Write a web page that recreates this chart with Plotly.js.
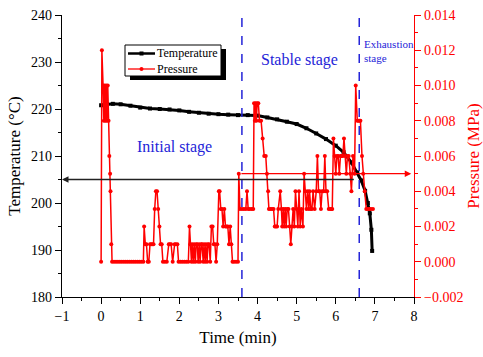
<!DOCTYPE html>
<html><head><meta charset="utf-8">
<script src="https://cdn.plot.ly/plotly-3.0.1.min.js"></script>
<style>html,body{margin:0;padding:0;background:#fff}#c{width:483px;height:357px}</style>
</head><body><div id="c"></div>
<script>
// Temperature series (min, °C)
const tempTime = [0.00,0.15,0.30,0.50,0.75,1.00,1.25,1.50,1.75,2.00,2.25,2.50,2.75,3.00,3.25,3.50,3.75,4.00,4.25,4.50,4.75,5.00,5.25,5.50,5.75,6.00,6.20,6.40,6.55,6.65,6.75,6.82,6.87,6.91,6.93];
const tempValues = [220.8,221.0,221.1,221.0,220.7,220.3,220.1,220.0,219.9,219.7,219.4,219.2,219.0,218.9,218.8,218.7,218.7,218.6,218.2,217.8,217.3,216.8,215.9,214.8,213.6,212.2,210.8,208.6,206.5,204.8,202.6,200.0,197.8,194.3,189.8];

// Pressure series (min, MPa)
const presTime = [0.00,0.02,0.05,0.07,0.09,0.11,0.13,0.15,0.17,0.19,0.21,0.23,0.24,0.26,0.28,
0.33,0.38,0.43,0.48,0.53,0.58,0.63,0.68,0.73,0.78,0.83,0.88,0.93,0.98,1.03,1.08,
1.10,1.13,1.16,1.19,1.22,1.25,1.28,1.31,1.34,1.37,1.40,1.43,1.46,1.49,1.52,1.55,1.58,1.63,1.68,
1.73,1.76,1.79,1.83,1.88,1.91,1.95,1.98,2.03,2.08,2.13,2.18,2.23,2.26,2.28,2.31,2.33,2.36,2.38,
2.41,2.43,2.46,2.48,2.51,2.53,2.56,2.58,2.61,2.63,2.66,2.68,2.71,2.73,2.76,2.79,2.82,2.85,2.88,
2.91,2.94,2.97,3.01,3.03,3.06,3.09,3.12,3.15,3.18,3.21,3.24,3.27,3.30,3.33,3.36,3.40,3.45,3.50,
3.52,3.55,3.60,3.65,3.70,3.73,3.76,3.80,3.85,3.89,3.91,3.93,3.95,3.97,3.99,4.02,4.05,4.09,4.13,
4.17,4.21,4.24,4.27,4.29,4.33,4.37,4.41,4.44,4.47,4.50,4.53,4.58,4.61,4.63,4.66,4.68,4.71,4.73,
4.76,4.79,4.82,4.85,4.88,4.91,4.94,4.97,5.00,5.03,5.06,5.09,5.12,5.16,5.19,5.22,5.25,5.28,5.31,
5.33,5.36,5.39,5.42,5.46,5.50,5.53,5.56,5.59,5.62,5.65,5.69,5.72,5.75,5.78,5.82,5.86,5.89,5.91,
5.94,5.97,6.00,6.03,6.06,6.09,6.12,6.15,6.18,6.21,6.24,6.27,6.30,6.33,6.37,6.40,6.44,6.48,6.51,
6.55,6.58,6.61,6.63,6.67,6.70,6.74,6.78,6.82,6.86,6.90,6.95];
const presValues = [0,0.012,0.010,0.008,0.010,0.008,0.010,0.008,0.010,0.008,0.006,0.005,0.004,0.001,0,
0,0,0,0,0,0,0,0,0,0,0,0,0,0,0,0,
0.002,0.001,0.001,0,0,0.001,0.001,0.001,0.001,0.003,0.004,0.004,0.003,0.002,0.001,0.001,0,0,0,
0.001,0.001,0.001,0,0.001,0.001,0.001,0,0,0,0,0,0,0.002,0.001,0,0.001,0,0.001,
0,0.001,0.001,0,0.001,0,0.001,0.001,0,0.001,0,0.001,0,0.001,0.001,0,0.002,0.002,0.001,
0.001,0,0.001,0.004,0.004,0.003,0.003,0.002,0.003,0.002,0.002,0.002,0.001,0.002,0.001,0,0,0,0,
0.005,0.003,0.003,0.003,0.003,0.004,0.003,0.003,0.003,0.003,0.009,0.008,0.009,0.008,0.009,0.009,0.008,0.008,0.007,
0.006,0.006,0.005,0.004,0.003,0.003,0.003,0.003,0.002,0.002,0.002,0.003,0.004,0.003,0.002,0.003,0.002,0.003,0.002,
0.003,0.003,0.002,0.001,0.002,0.003,0.002,0.004,0.003,0.002,0.004,0.002,0.003,0.002,0.005,0.004,0.003,0.004,0.003,0.004,
0.003,0.003,0.004,0.003,0.004,0.006,0.004,0.004,0.003,0.004,0.004,0.006,0.004,0.004,0.003,0.003,0.003,0.003,0.007,
0.006,0.005,0.006,0.006,0.005,0.006,0.006,0.006,0.007,0.006,0.005,0.006,0.006,0.005,0.004,0.006,0.005,0.010,0.008,
0.008,0.008,0.008,0.006,0.005,0.004,0.003,0.003,0.003,0.003,0.003,0.003];

const seriesNames = ["Temperature", "Pressure"];
const stageBounds = [3.6, 6.6];
const stageLabels = ["Initial stage", "Stable stage", "Exhaustion<br>stage"];
const tempArrow = {from: 6.5, to: -1, value: 205};
const presArrow = {from: 3.55, to: 7.93, value: 0.005};

const serif = '"Liberation Serif", "Times New Roman", Times, serif';
const blue = "#2424d8";
const red = "#ff0000";

// plot area geometry (px) for converting legend placement to paper coords
const W = 483, H = 357, M = {l: 62, r: 69, t: 15, b: 60};
const pw = W - M.l - M.r, ph = H - M.t - M.b;
const px = X => (X - M.l) / pw;
const py = Y => (H - M.b - Y) / ph;

const traces = [
  {x: tempTime, y: tempValues, name: seriesNames[0], type: "scatter", mode: "lines+markers", showlegend: false,
   line: {color: "#000", width: 3}, marker: {symbol: "square", size: 4, color: "#000"}, xaxis: "x", yaxis: "y"},
  {x: presTime, y: presValues, name: seriesNames[1], type: "scatter", mode: "lines+markers", showlegend: false,
   line: {color: red, width: 1.5}, marker: {symbol: "circle", size: 4, color: red}, xaxis: "x", yaxis: "y2"}
];

const shapes = stageBounds.map(b => ({type: "line", xref: "x", yref: "y", x0: b, x1: b, y0: 180, y1: 240,
  line: {color: blue, width: 1.5, dash: "dash"}}));
// legend box with drop shadow
const lg = {x0: 125, x1: 221, y0: 45, y1: 76};
shapes.push({type: "rect", xref: "paper", yref: "paper", x0: px(lg.x0 + 5), x1: px(lg.x1 + 5), y0: py(lg.y1 + 4), y1: py(lg.y0 + 4),
  fillcolor: "#000", line: {width: 0}, layer: "above"});
shapes.push({type: "rect", xref: "paper", yref: "paper", x0: px(lg.x0), x1: px(lg.x1), y0: py(lg.y1), y1: py(lg.y0),
  fillcolor: "#fff", line: {width: 1, color: "#000"}, layer: "above"});
const rows = [{Y: 53.5, c: "#000", w: 2.5, sym: "rect"}, {Y: 69, c: red, w: 1.3, sym: "circle"}];
rows.forEach(r => {
  shapes.push({type: "line", xref: "paper", yref: "paper", x0: px(128), x1: px(155), y0: py(r.Y), y1: py(r.Y),
    line: {color: r.c, width: r.w}, layer: "above"});
  shapes.push({type: r.sym, xref: "paper", yref: "paper", x0: px(139.5), x1: px(143.5), y0: py(r.Y + 2), y1: py(r.Y - 2),
    fillcolor: r.c, line: {width: 0}, layer: "above"});
});

const annotations = [
  {x: 1.88, y: 211.9, xref: "x", yref: "y", text: stageLabels[0], showarrow: false, font: {family: serif, size: 16, color: blue}},
  {x: 5.08, y: 230.4, xref: "x", yref: "y", text: stageLabels[1], showarrow: false, font: {family: serif, size: 16, color: blue}},
  {x: 6.68, y: 232.3, xref: "x", yref: "y", text: stageLabels[2], showarrow: false, xanchor: "left", align: "left", font: {family: serif, size: 11, color: blue}},
  {x: tempArrow.to, y: tempArrow.value, ax: tempArrow.from, ay: tempArrow.value, xref: "x", yref: "y", axref: "x", ayref: "y",
   text: "", showarrow: true, arrowhead: 2, arrowsize: 1, arrowwidth: 1.3, arrowcolor: "#222"},
  {x: presArrow.to, y: presArrow.value, ax: presArrow.from, ay: presArrow.value, xref: "x", yref: "y2", axref: "x", ayref: "y2",
   text: "", showarrow: true, arrowhead: 2, arrowsize: 1, arrowwidth: 1.3, arrowcolor: red},
  {x: px(155), y: py(53.5), xref: "paper", yref: "paper", xanchor: "left", yanchor: "middle", text: seriesNames[0], showarrow: false,
   font: {family: serif, size: 12, color: "#000"}},
  {x: px(155), y: py(69), xref: "paper", yref: "paper", xanchor: "left", yanchor: "middle", text: seriesNames[1], showarrow: false,
   font: {family: serif, size: 12, color: "#000"}}
];

const layout = {
  width: W, height: H,
  margin: M,
  paper_bgcolor: "#fff", plot_bgcolor: "#fff",
  font: {family: serif, size: 14, color: "#000"},
  showlegend: false,
  xaxis: {range: [-1, 8], dtick: 1, tick0: 0, showgrid: false, zeroline: false, showline: true, linecolor: "#000", linewidth: 1.3,
    ticks: "outside", ticklen: 6, tickcolor: "#000", minor: {dtick: 0.5, ticklen: 3, tickcolor: "#000", ticks: "outside"},
    title: {text: "Time (min)", font: {family: serif, size: 17}, standoff: 8}, tickfont: {family: serif, size: 14}},
  xaxis2: {range: [-1, 8], dtick: 1, overlaying: "x", side: "top", anchor: "y", showgrid: false, zeroline: false, showline: true,
    linecolor: "#000", linewidth: 1.3, ticks: "inside", ticklen: 6, tickcolor: "#000", showticklabels: false,
    minor: {dtick: 0.5, ticklen: 3, tickcolor: "#000", ticks: "inside"}},
  yaxis: {range: [180, 240], dtick: 10, showgrid: false, zeroline: false, showline: true, linecolor: "#000", linewidth: 1.3,
    ticks: "outside", ticklen: 6, tickcolor: "#000", minor: {dtick: 5, ticklen: 3, tickcolor: "#000", ticks: "outside"},
    title: {text: "Temperature (°C)", font: {family: serif, size: 17}, standoff: 6}, tickfont: {family: serif, size: 14}},
  yaxis2: {range: [-0.002, 0.014], dtick: 0.002, tick0: 0, tickformat: ".3f", overlaying: "y", side: "right", anchor: "x",
    showgrid: false, zeroline: false, showline: true, linecolor: red, linewidth: 1.3,
    ticks: "outside", ticklen: 6, tickcolor: red, minor: {dtick: 0.001, ticklen: 3, tickcolor: red, ticks: "outside"},
    tickfont: {family: serif, size: 14, color: red},
    title: {text: "Pressure (MPa)", font: {family: serif, size: 17, color: red}, standoff: 4}},
  shapes: shapes,
  annotations: annotations
};

Plotly.newPlot("c", traces, layout, {displayModeBar: false, staticPlot: true});
</script></body></html>
